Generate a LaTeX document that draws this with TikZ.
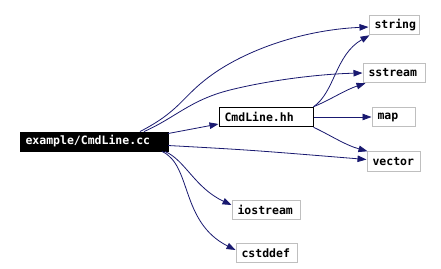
\documentclass[tikz,border=0pt]{standalone}
\usepackage{fontspec}
\setmonofont{DejaVu Sans Mono}
\usetikzlibrary{arrows.meta,calc}
\definecolor{edgeblue}{HTML}{191970}
\definecolor{boxgray}{HTML}{BFBFBF}
\begin{document}
\begin{tikzpicture}[x=1pt,y=-1pt,
  lbl/.style={font=\ttfamily\bfseries\fontsize{11.5}{12}\selectfont, inner xsep=5.5pt, inner ysep=0pt, minimum height=19.5pt, align=left},
  extbox/.style={lbl, draw=boxgray, line width=1pt, fill=white},
  inbox/.style={lbl, draw=black, line width=1pt, fill=white},
  curbox/.style={lbl, draw=black, fill=black, text=white},
  dep/.style={draw=edgeblue, line width=0.8pt, -{Triangle[length=9pt,width=6.5pt]}, fill=none}]
\useasboundingbox (0,0) rectangle (441,268);
\fill[white] (0,0) rectangle (441,268);
\node[curbox, text width=137pt] (cc) at (94,141.5) {example/CmdLine.cc};
\node[inbox, text width=83pt] (hh) at (266,117) {CmdLine.hh};
\node[extbox, text width=39pt] (string) at (394,25) {string};
\node[extbox, text width=51pt] (sstream) at (394,73) {sstream};
\node[extbox, text width=32pt] (map) at (393.5,117) {map};
\node[extbox, text width=42pt] (vector) at (393.5,161.5) {vector};
\node[extbox, text width=57pt] (iostream) at (266,210) {iostream};
\node[extbox, text width=50pt] (cstddef) at (266.5,253) {cstddef};
% edges from CmdLine.cc
\draw[dep] ([xshift=46pt]cc.north) .. controls (178,112) and (182,98) .. (205,80)
  .. controls (240,52) and (300,30) .. ([yshift=-2pt]string.west);
\draw[dep] ([xshift=50pt]cc.north) .. controls (175,118) and (190,100) .. (230,90)
  .. controls (270,80) and (320,74) .. (sstream.west);
\draw[dep] ([yshift=8pt]cc.east) -- ([yshift=-7pt]hh.west);
\draw[dep] ([yshift=-4pt]cc.east) .. controls (250,150) .. ([yshift=2pt]vector.west);
\draw[dep] ([xshift=71pt]cc.south) .. controls (185,160) and (195,188) .. ([yshift=5pt]iostream.west);
\draw[dep] ([xshift=68pt]cc.south) .. controls (192,165) and (180,222) .. ([yshift=3pt]cstddef.west);
% edges from CmdLine.hh
\draw[dep] (hh.north east) .. controls (335,92) and (335,55) .. ([xshift=1pt]string.south west);
\draw[dep] (hh.north east) .. controls (330,100) and (345,90) .. ([xshift=3pt]sstream.south west);
\draw[dep] (hh.east) -- (map.west);
\draw[dep] (hh.south east) .. controls (330,135) and (345,145) .. ([xshift=1pt]vector.north west);
\end{tikzpicture}
\end{document}
